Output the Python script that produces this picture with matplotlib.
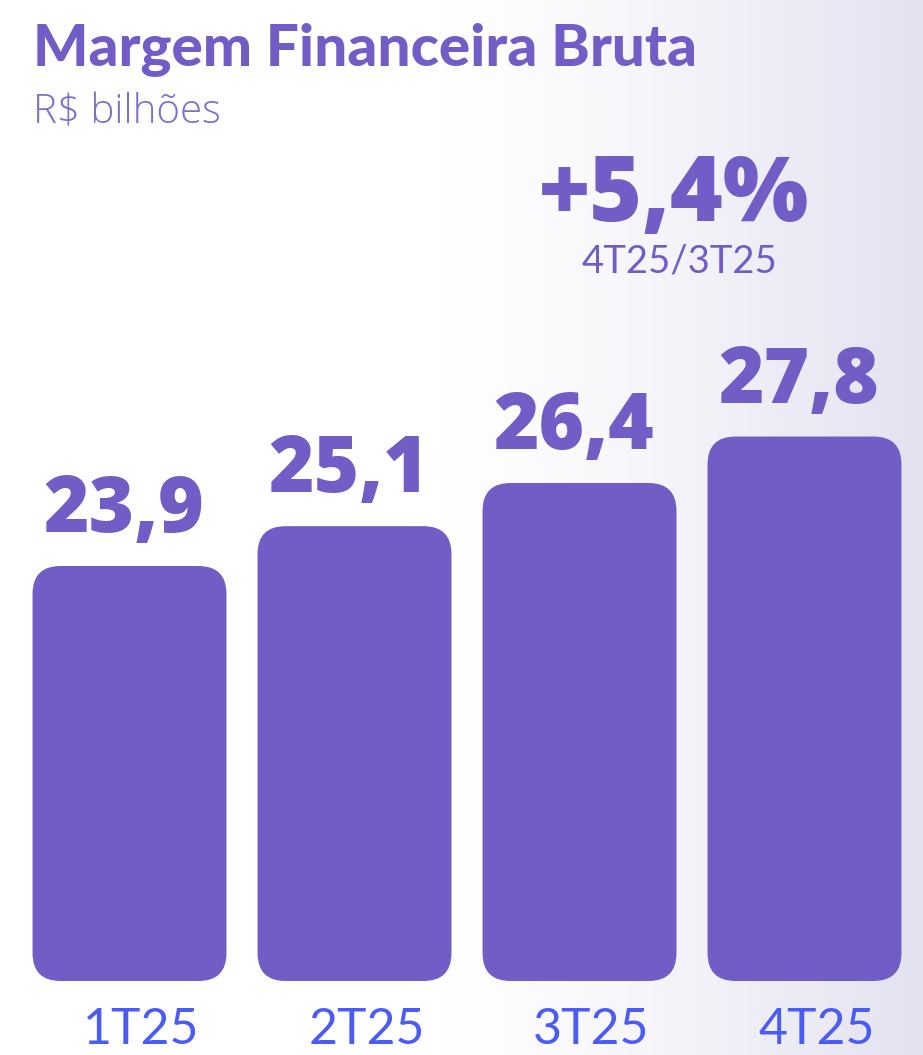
import numpy as np
import matplotlib
matplotlib.use("Agg")
import matplotlib.pyplot as plt
from matplotlib.patches import FancyBboxPatch

# dados
trimestres = ["1T25", "2T25", "3T25", "4T25"]
valores = [23.9, 25.1, 26.4, 27.8]
rotulos = ["23,9", "25,1", "26,4", "27,8"]
variacao = "+5,4%"
variacao_ref = "4T25/3T25"

roxo = "#725DC6"
azul = "#4B5CF5"

W, H = 923, 1055
fig = plt.figure(figsize=(W / 100, H / 100), dpi=100)

# fundo em degradê (branco -> lilás à direita)
bg = fig.add_axes([0, 0, 1, 1])
xs = np.linspace(0, 1, 400)
t = np.clip((xs - 0.48) / 0.52, 0, 1) ** 1.3
c0 = np.array([1.0, 1.0, 1.0])
c1 = np.array([0xE3, 0xE2, 0xF1]) / 255
grad = c0[None, :] * (1 - t[:, None]) + c1[None, :] * t[:, None]
bg.imshow(grad[None, :, :], aspect="auto", extent=[0, 1, 0, 1])
bg.axis("off")

# eixo das barras
base = 11.4
px_por_un = 33.2
ax_left, ax_w = 17 / W, 900 / W
ax_bot, ax_h = 74 / H, 835 / H
ax = fig.add_axes([ax_left, ax_bot, ax_w, ax_h])
ax.set_xlim(-0.5, 3.5)
ax.set_ylim(base, base + 835 / px_por_un)
ax.axis("off")

x = np.arange(len(trimestres))
barras = ax.bar(x, np.array(valores) - base, bottom=base, width=0.862, color=roxo)

# trocar por retângulos arredondados
aspect = (1 / px_por_un) / (1 / 225)
raio = 28 / 225
for b in barras:
    bx, by = b.get_x(), b.get_y()
    bw, bh = b.get_width(), b.get_height()
    b.remove()
    p = FancyBboxPatch((bx, by), bw, bh,
                       boxstyle=f"round,pad=0,rounding_size={raio}",
                       mutation_aspect=aspect, facecolor=roxo, edgecolor="none")
    ax.add_patch(p)

for xi, v, r in zip(x, valores, rotulos):
    ax.annotate(r, (xi, v), xytext=(-6, 34), textcoords="offset pixels",
                ha="center", va="baseline", fontsize=56, fontweight=800,
                family="Open Sans", color=roxo)

for xi, lab in zip(x, trimestres):
    ax.annotate(lab, (xi, base), xytext=(12, -63), textcoords="offset pixels",
                ha="center", va="baseline", fontsize=36, family="Lato",
                color=azul, annotation_clip=False)

# títulos
fig.text(33 / W, 1 - 66 / H, "Margem Financeira Bruta", fontsize=42,
         fontweight="black", family="Lato", color=roxo, va="baseline")
fig.text(33 / W, 1 - 123 / H, "R$ bilhões", fontsize=29,
         fontweight=300, family="Open Sans", color="#7F6ECF", va="baseline")

fig.text(674 / W, 1 - 221 / H, variacao, fontsize=65, fontweight=800,
         family="Open Sans", color=roxo, ha="center", va="baseline")
fig.text(679 / W, 1 - 273 / H, variacao_ref, fontsize=27.5,
         family="Lato", color=roxo, ha="center", va="baseline")

fig.savefig("out.png", dpi=100)
